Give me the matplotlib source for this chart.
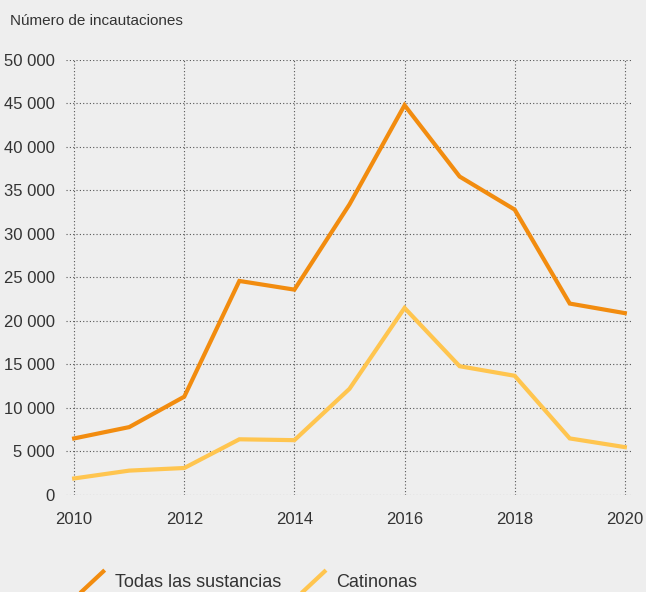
import matplotlib.pyplot as plt
from matplotlib.legend_handler import HandlerLine2D
from matplotlib.lines import Line2D
from matplotlib.ticker import FuncFormatter

# Incautaciones por año
years = [2010, 2011, 2012, 2013, 2014, 2015, 2016, 2017, 2018, 2019, 2020]
todas = [6500, 7800, 11300, 24600, 23600, 33400, 44800, 36600, 32800, 22000, 20900]
catinonas = [1900, 2800, 3100, 6400, 6300, 12200, 21500, 14800, 13700, 6500, 5500]

series_labels = ["Todas las sustancias", "Catinonas"]
colors = ["#F28C0F", "#FFC54F"]
bg = "#EEEEEE"
text_color = "#333333"

plt.rcParams['font.family'] = ['Liberation Sans', 'DejaVu Sans']


class DiagonalHandler(HandlerLine2D):
    # línea inclinada en la leyenda
    def create_artists(self, legend, orig_handle, xdescent, ydescent,
                       width, height, fontsize, trans):
        line = Line2D([0, width], [-0.7 * height, 1.3 * height],
                      color=orig_handle.get_color(),
                      linewidth=orig_handle.get_linewidth(),
                      solid_capstyle='butt')
        line.set_transform(trans)
        return [line]


fig = plt.figure(figsize=(6.46, 5.92), dpi=100, facecolor=bg)
ax = fig.add_axes([0.102, 0.1639, 0.878, 0.7348], facecolor=bg)

l1, = ax.plot(years, todas, color=colors[0], linewidth=3, label=series_labels[0],
              solid_joinstyle='miter', zorder=3)
l2, = ax.plot(years, catinonas, color=colors[1], linewidth=3, label=series_labels[1],
              solid_joinstyle='miter', zorder=3)

ax.set_xlim(2009.85, 2020.15)
ax.set_ylim(0, 50000)
ax.set_xticks(range(2010, 2021, 2))
ax.set_yticks(range(0, 50001, 5000))
ax.yaxis.set_major_formatter(FuncFormatter(lambda v, p: f"{int(v):,}".replace(",", " ")))

ax.grid(True, color="#555555", linestyle=(0, (1, 2)), linewidth=0.8)
for s in ax.spines.values():
    s.set_visible(False)
ax.tick_params(length=0, labelsize=12, colors=text_color)
ax.tick_params(axis='y', pad=8)
ax.tick_params(axis='x', pad=12)

fig.text(0.016, 0.965, "Número de incautaciones", fontsize=11, color=text_color,
         ha='left', va='center')

leg = fig.legend(handles=[l1, l2], loc='lower left', bbox_to_anchor=(0.095, -0.025),
                 ncol=2, frameon=False, fontsize=13, handlelength=1.5,
                 handletextpad=0.55, columnspacing=1.0,
                 handler_map={Line2D: DiagonalHandler()})
for t in leg.get_texts():
    t.set_color(text_color)

fig.savefig("out.png", dpi=100, facecolor=bg)
